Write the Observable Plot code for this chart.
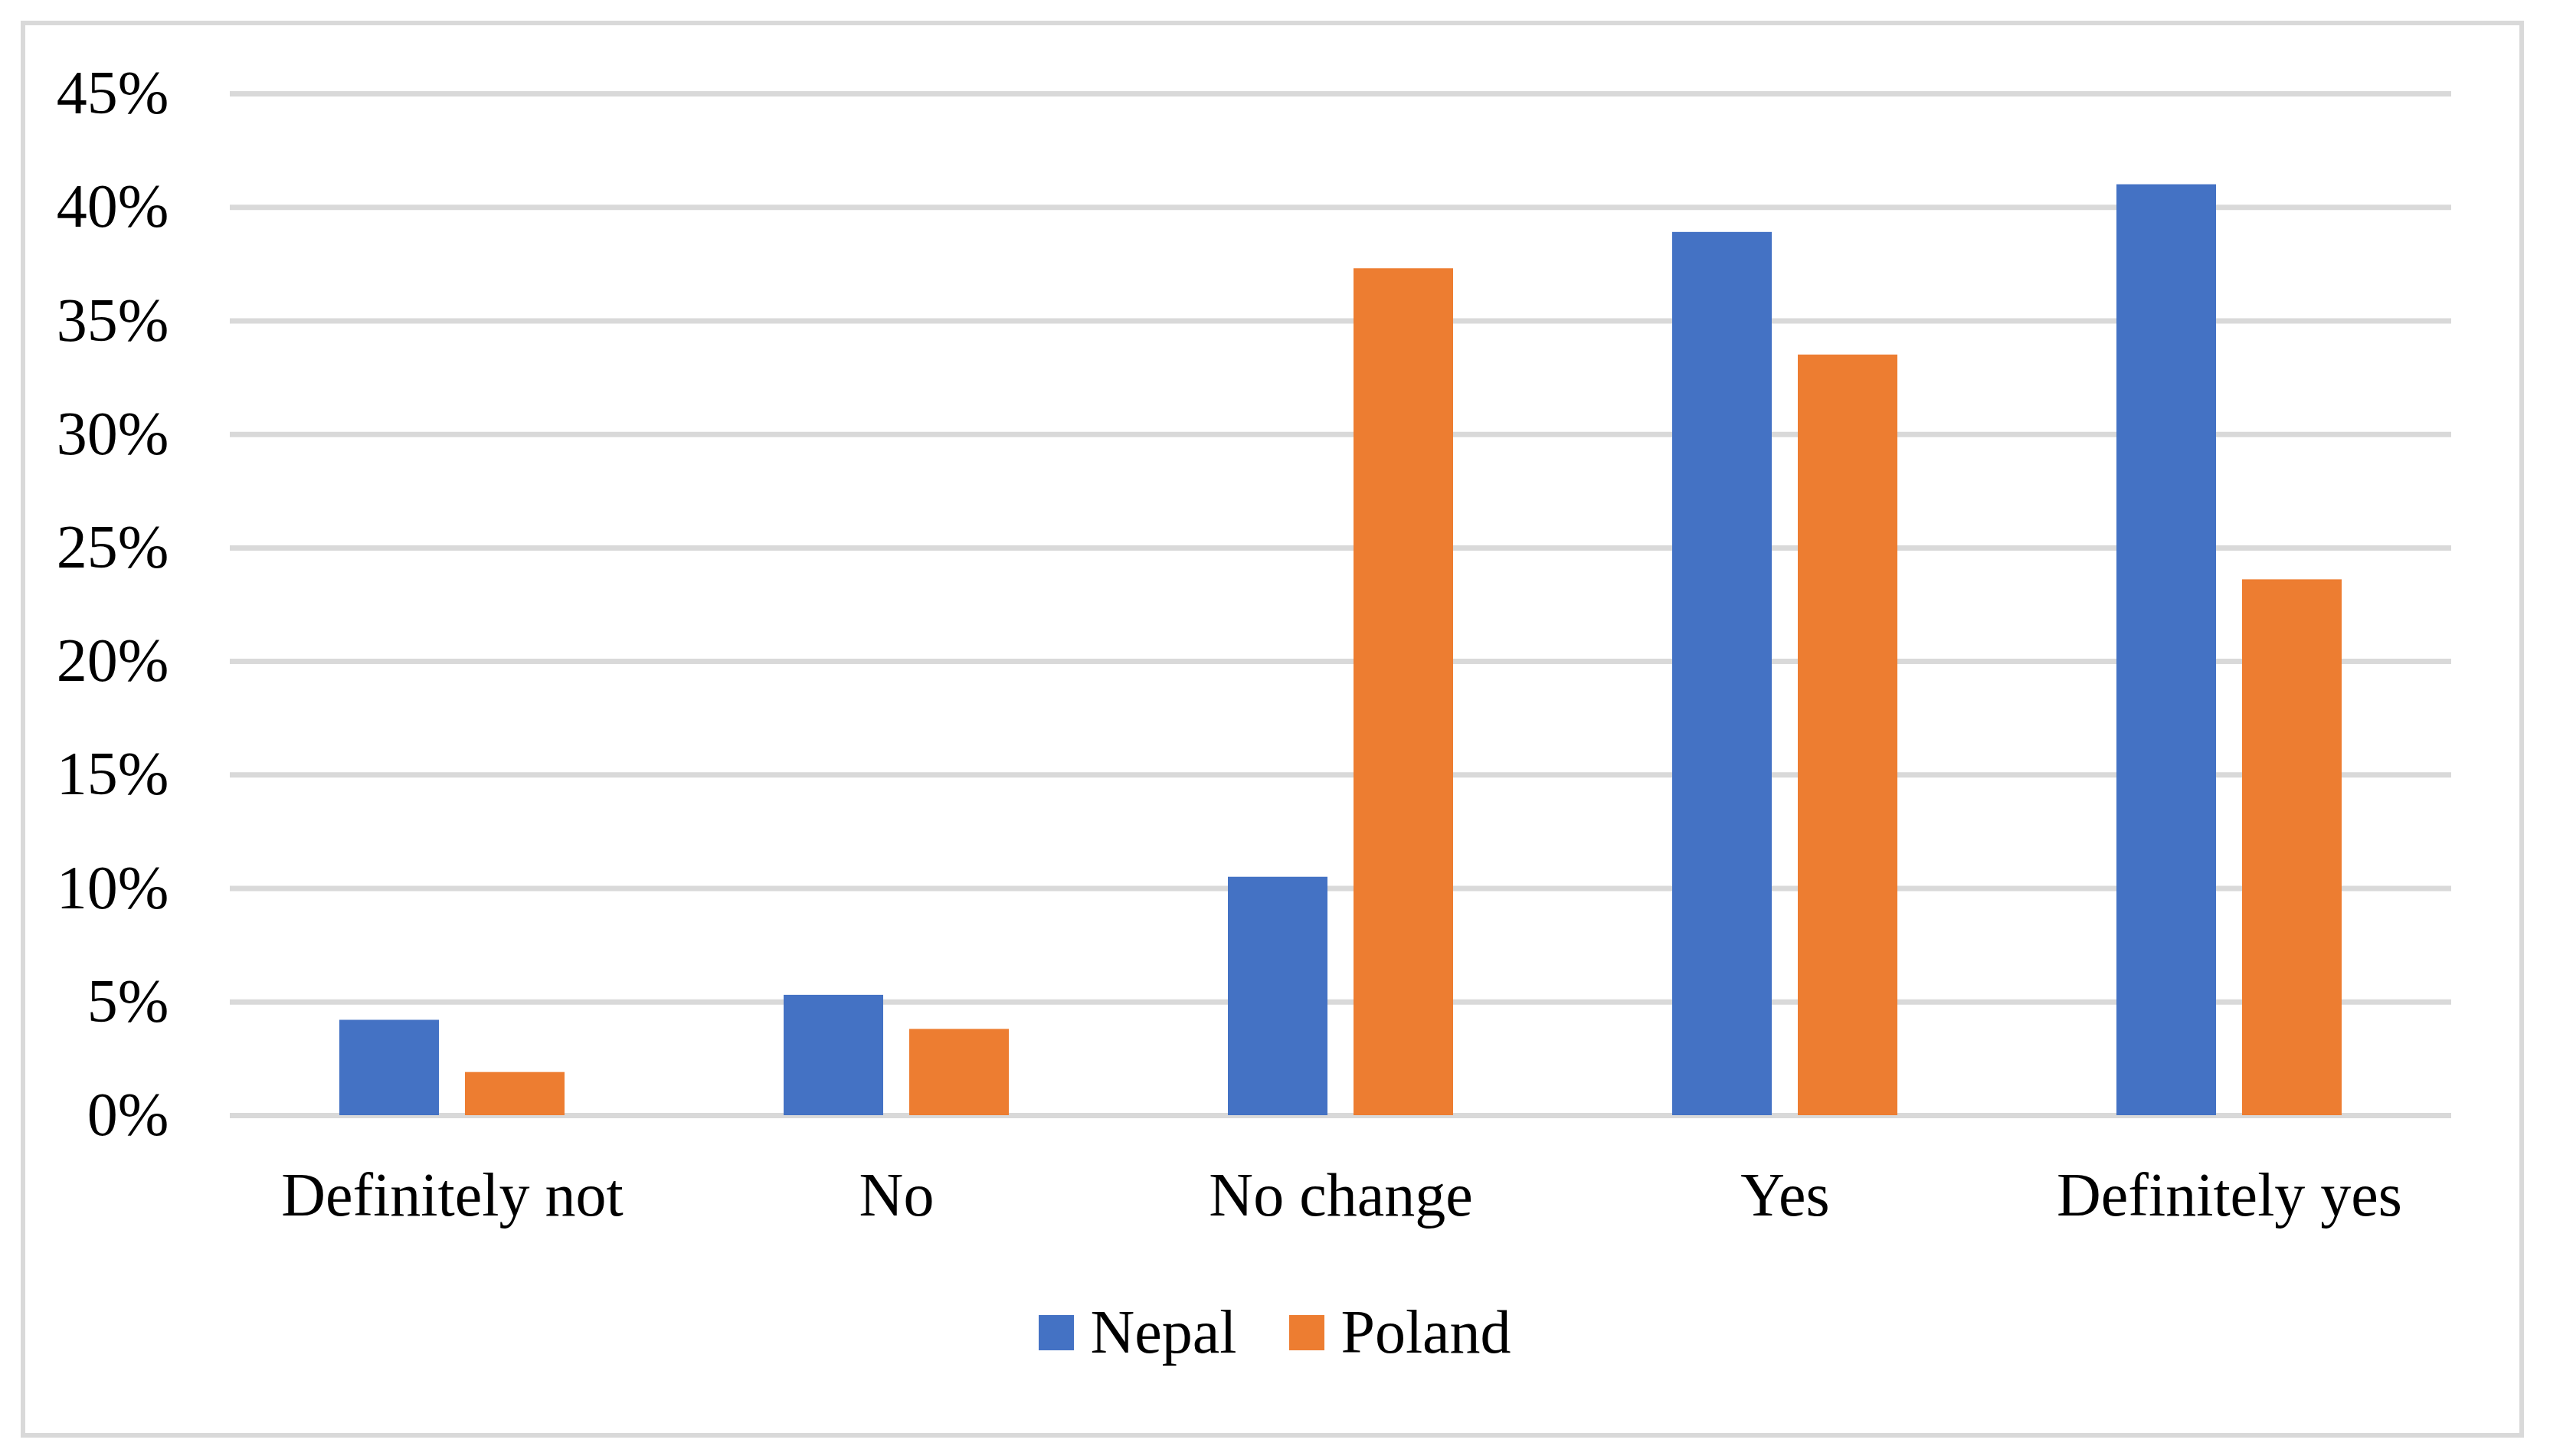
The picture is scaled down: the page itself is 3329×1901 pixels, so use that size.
<!DOCTYPE html>
<html>
<head>
<meta charset="utf-8">
<script src="https://cdn.jsdelivr.net/npm/d3@7"></script>
<script src="https://cdn.jsdelivr.net/npm/@observablehq/plot@0.6"></script>
<style>
  html, body { margin: 0; padding: 0; background: #fff; overflow: hidden; }
  #wrap { position: relative; width: 3329px; height: 1901px; background: #fff; }
  #frame { position: absolute; left: 27px; top: 27px; width: 3268px; height: 1850px;
           box-sizing: border-box; border: 6px solid #d9d9d9; z-index: 5; pointer-events: none; }
  #chart { position: absolute; left: 0; top: 0; }
  #legend { position: absolute; left: 0; top: 1694px; width: 3329px; display: flex; justify-content: center; }
  div.lg-swatches-wrap { justify-content: center; }
  div.lg-swatches .lg-swatch { margin-right: 69px; }
  div.lg-swatches .lg-swatch:last-child { margin-right: 0; }
  div.lg-swatches .lg-swatch > svg { margin-right: 21px; }
</style>
</head>
<body>
<div id="wrap">
  <div id="frame"></div>
  <div id="chart"></div>
  <div id="legend"></div>
</div>
<script>
const categories = ["Definitely not", "No", "No change", "Yes", "Definitely yes"];
const countries = ["Nepal", "Poland"];
const nepalValues = [4.2, 5.3, 10.5, 38.9, 41.0];
const polandValues = [1.9, 3.8, 37.3, 33.5, 23.6];
const colors = ["#4472C4", "#ED7D31"];
const yTicks = [0, 5, 10, 15, 20, 25, 30, 35, 40, 45];

const data = [];
categories.forEach((c, i) => {
  data.push({category: c, country: "Nepal", value: nepalValues[i]});
  data.push({category: c, country: "Poland", value: polandValues[i]});
});

const font = "'Liberation Serif', 'Times New Roman', serif";

const chart = Plot.plot({
  width: 3329,
  height: 1660,
  marginLeft: 298,
  marginRight: 128,
  marginTop: 122,
  marginBottom: 204,
  style: {fontFamily: font, fontSize: "80px", color: "#000", background: "transparent", overflow: "visible"},
  facet: {data, x: "category"},
  fx: {domain: categories, paddingInner: 0, paddingOuter: 0, label: null, axis: "bottom", tickSize: 0, tickPadding: 74},
  x: {domain: countries, axis: null, paddingInner: 0.206, paddingOuter: 0.862},
  y: {domain: [0, 45], ticks: yTicks, tickFormat: d => d + "%", label: null, tickSize: 0, tickPadding: 80},
  color: {domain: countries, range: colors},
  marks: [
    Plot.ruleY(yTicks, {stroke: "#d9d9d9", strokeWidth: 7}),
    Plot.barY(data, {x: "country", y: "value", fill: "country"})
  ]
});
document.getElementById("chart").appendChild(chart);

const legend = Plot.legend({
  color: {domain: countries, range: colors},
  legend: "swatches",
  swatchSize: 46,
  className: "lg",
  style: {fontFamily: font, fontSize: "80px", color: "#000", margin: "0"}
});
document.getElementById("legend").appendChild(legend);
</script>
</body>
</html>
